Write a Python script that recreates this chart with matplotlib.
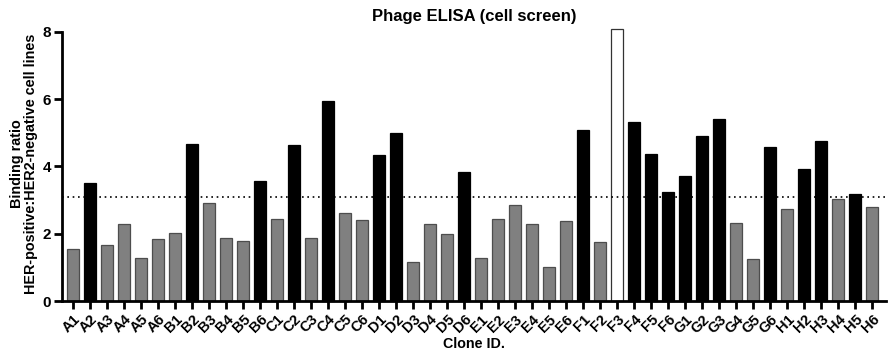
import matplotlib.pyplot as plt
import numpy as np

plt.rcParams['font.family'] = ['Liberation Sans', 'DejaVu Sans']

clones = ['A1', 'A2', 'A3', 'A4', 'A5', 'A6', 'B1', 'B2', 'B3', 'B4', 'B5', 'B6',
          'C1', 'C2', 'C3', 'C4', 'C5', 'C6', 'D1', 'D2', 'D3', 'D4', 'D5', 'D6',
          'E1', 'E2', 'E3', 'E4', 'E5', 'E6', 'F1', 'F2', 'F3', 'F4', 'F5', 'F6',
          'G1', 'G2', 'G3', 'G4', 'G5', 'G6', 'H1', 'H2', 'H3', 'H4', 'H5', 'H6']
ratios = [1.54, 3.50, 1.68, 2.28, 1.29, 1.86, 2.01, 4.68, 2.91, 1.89, 1.78, 3.56,
          2.45, 4.64, 1.89, 5.94, 2.63, 2.40, 4.33, 5.01, 1.17, 2.29, 1.98, 3.84,
          1.27, 2.45, 2.86, 2.28, 1.02, 2.38, 5.08, 1.75, 8.10, 5.32, 4.37, 3.25,
          3.71, 4.91, 5.42, 2.31, 1.25, 4.58, 2.73, 3.93, 4.75, 3.03, 3.17, 2.81]
threshold = 3.10
control = 'F3'  # drawn as open bar

fig = plt.figure(figsize=(8.89, 3.53), dpi=100)
ax = fig.add_axes([0.0697, 0.147, 0.927, 0.777])

x = np.arange(len(clones))
faces, edges = [], []
for c, v in zip(clones, ratios):
    if c == control:
        faces.append('white'); edges.append('#333333')
    elif v > threshold:
        faces.append('black'); edges.append('black')
    else:
        faces.append('#808080'); edges.append('#4d4d4d')

bars = ax.bar(x, ratios, width=0.68, color=faces, edgecolor=edges, linewidth=0.9, zorder=2)
for b in bars:
    b.set_clip_on(False)

ax.axhline(threshold, color='black', linestyle=(0, (1, 2.2)), linewidth=1.2, zorder=3)

ax.set_xlim(-0.65, len(clones) - 0.18)
ax.set_ylim(0, 8.15)
ax.set_yticks([0, 2, 4, 6, 8])
ax.set_xticks(x)
ax.set_xticklabels(clones, rotation=45, ha='right', rotation_mode='anchor',
                   fontsize=10.5, fontweight='bold')
for lbl in ax.get_yticklabels():
    lbl.set_fontweight('bold')
    lbl.set_fontsize(11)

ax.spines['top'].set_visible(False)
ax.spines['right'].set_visible(False)
ax.spines['left'].set_linewidth(2)
ax.spines['bottom'].set_linewidth(2)
ax.spines['left'].set_bounds(0, 8)
ax.tick_params(axis='both', width=2, length=6, direction='out', pad=2)

ax.set_title('Phage ELISA (cell screen)', fontsize=12, fontweight='bold', pad=4)
ax.set_xlabel('Clone ID.', fontsize=10.3, fontweight='bold', labelpad=1)
ax.set_ylabel('Binding ratio\nHER-positive:HER2-negative cell lines', fontsize=10.4,
              fontweight='bold', labelpad=3, linespacing=1.05)

fig.savefig('out.png', dpi=100)
